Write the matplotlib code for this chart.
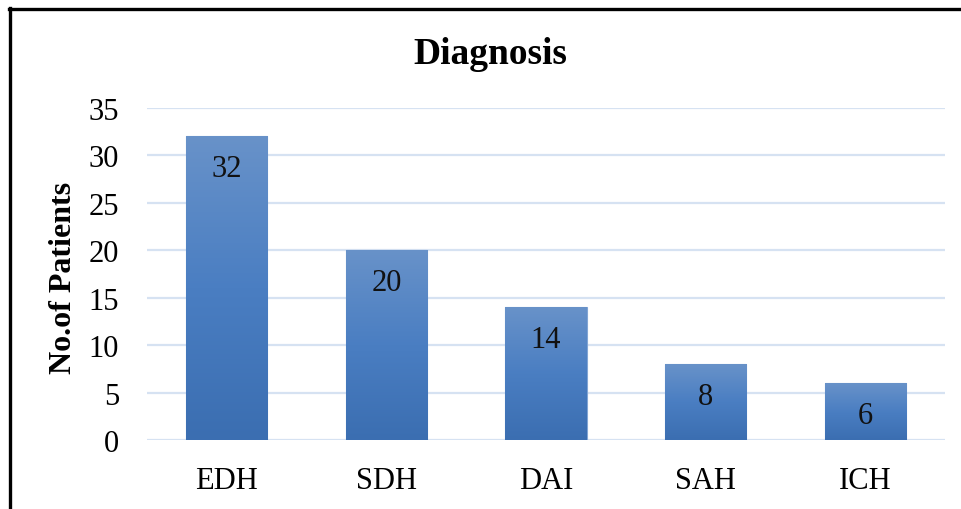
import numpy as np
import matplotlib
matplotlib.use('Agg')
import matplotlib.pyplot as plt
from matplotlib.colors import LinearSegmentedColormap
from matplotlib.lines import Line2D

plt.rcParams.update({'font.family': 'Liberation Serif'})

#==============================================================================
# DATA
#==============================================================================
diagnosis = ['EDH', 'SDH', 'DAI', 'SAH', 'ICH']
patients = [32, 20, 14, 8, 6]
yticks = [0, 5, 10, 15, 20, 25, 30, 35]

#==============================================================================
# PLOT
#==============================================================================
fig = plt.figure(figsize=(9.62, 5.10), dpi=100)
ax = fig.add_axes([147/962, 1-441/510, (945-147)/962, (441-109)/510])

x = np.arange(len(diagnosis))
bars = ax.bar(x, patients, width=0.51, color='#4f7fc0', edgecolor='#82a5d4',
              linewidth=0.8, zorder=2)

# vertical gradient in each bar
grad = LinearSegmentedColormap.from_list('g', ['#3b6eb1', '#4a7ec2', '#6892c9'])
gimg = np.linspace(0, 1, 256).reshape(-1, 1)
for b in bars:
    x0, y0 = b.get_x(), b.get_y()
    im = ax.imshow(gimg, cmap=grad, aspect='auto', origin='lower',
                   extent=[x0, x0 + b.get_width(), y0, y0 + b.get_height()],
                   zorder=2.5)
    im.set_clip_path(b)

for xi, v in zip(x, patients):
    ax.annotate(str(v), (xi, v), xytext=(0, -23), textcoords='offset points',
                ha='center', va='center', fontsize=22, color='#111111', zorder=4)

ax.set_xlim(-0.5, 4.5)
ax.set_ylim(0, 35)
ax.set_yticks(yticks)
ax.set_xticks(x)
ax.set_xticklabels(diagnosis)
ax.tick_params(axis='both', length=0, labelsize=22)
ax.tick_params(axis='y', pad=20)
ax.tick_params(axis='x', pad=19)
ax.yaxis.grid(True, color='#d6e2f2', linewidth=1.6, zorder=0)
ax.set_axisbelow(True)
for s in ax.spines.values():
    s.set_visible(False)

ax.set_ylabel('No.of Patients', fontsize=23, fontweight='bold')
ax.yaxis.set_label_coords(-0.087, 0.49)

fig.text(490/962, 1-64/510, 'Diagnosis', ha='center', va='baseline',
         fontsize=27, fontweight='bold')

# frame of the chart area (top and left only visible)
fig.add_artist(Line2D([9/962, 1], [1-10/510, 1-10/510], color='black', linewidth=2.4))
fig.add_artist(Line2D([10/962, 10/962], [0, 1-9/510], color='black', linewidth=2.4))

fig.savefig('out.png', dpi=100)
